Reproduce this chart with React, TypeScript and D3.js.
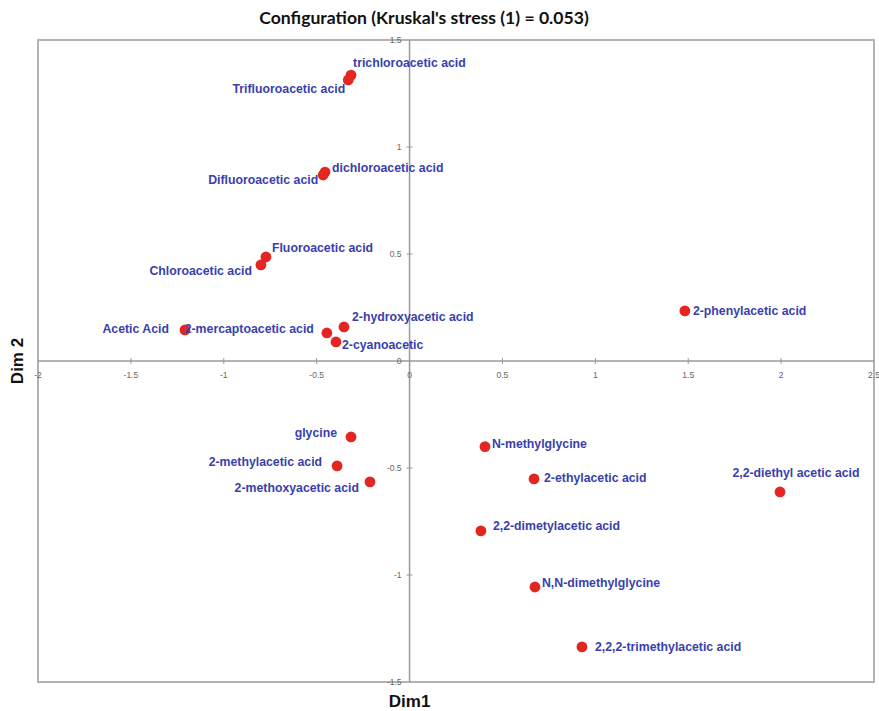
import React from "react";
import * as d3 from "d3";

// MDS configuration: compound names and their coordinates on the two dimensions
const names = [
  "trichloroacetic acid",
  "Trifluoroacetic acid",
  "dichloroacetic acid",
  "Difluoroacetic acid",
  "Fluoroacetic acid",
  "Chloroacetic acid",
  "Acetic Acid",
  "2-mercaptoacetic acid",
  "2-hydroxyacetic acid",
  "2-cyanoacetic",
  "2-phenylacetic acid",
  "glycine",
  "2-methylacetic acid",
  "2-methoxyacetic acid",
  "N-methylglycine",
  "2-ethylacetic acid",
  "2,2-diethyl acetic acid",
  "2,2-dimetylacetic acid",
  "N,N-dimethylglycine",
  "2,2,2-trimethylacetic acid",
];
const dim1 = [
  -0.315, -0.33, -0.455, -0.465, -0.773, -0.8, -1.209, -0.445, -0.353, -0.396,
  1.482, -0.315, -0.39, -0.213, 0.406, 0.67, 1.994, 0.384, 0.675, 0.928,
];
const dim2 = [
  1.336, 1.313, 0.883, 0.869, 0.486, 0.449, 0.145, 0.131, 0.159, 0.089,
  0.234, -0.355, -0.49, -0.565, -0.4, -0.551, -0.612, -0.794, -1.056, -1.336,
];
const xTicks = [-2, -1.5, -1, -0.5, 0, 0.5, 1, 1.5, 2, 2.5];
const yTicks = [-1.5, -1, -0.5, 0, 0.5, 1, 1.5];

// label placement relative to each marker: [dx, dy, anchor]
const labelPlacement: [number, number, string][] = [
  [2, -12, "start"],
  [-3, 9, "end"],
  [7, -4, "start"],
  [-5, 5, "end"],
  [6, -9, "start"],
  [-9, 6, "end"],
  [-16, -1, "end"],
  [-13, -4, "end"],
  [8, -10, "start"],
  [6, 3, "start"],
  [8, 0, "start"],
  [-14, -4, "end"],
  [-15, -4, "end"],
  [-11, 6, "end"],
  [7, -3, "start"],
  [10, -1, "start"],
  [16, -19, "middle"],
  [12, -5, "start"],
  [7, -4, "start"],
  [13, 0, "start"],
];

const W = 879;
const H = 711;
const left = 38;
const right = 874;
const top = 40;
const bottom = 682;

export default function App() {
  const x = d3.scaleLinear().domain([-2, 2.5]).range([left, right]);
  const y = d3.scaleLinear().domain([-1.5, 1.5]).range([bottom, top]);
  const x0 = x(0);
  const y0 = y(0);
  const fmt = (v: number) => String(v);
  const tickFont = "'Liberation Sans', Arial, sans-serif";
  const labelFont = "'Liberation Sans', Arial, sans-serif";

  return (
    <svg
      width={W}
      height={H}
      style={{ position: "absolute", left: 0, top: 0, background: "#fff" }}
    >
      <text
        x={424}
        y={24}
        textAnchor="middle"
        fontFamily="Lato, 'Open Sans', sans-serif"
        fontWeight="bold"
        fontSize={17.6}
        fill="#111"
      >
        Configuration (Kruskal's stress (1) = 0.053)
      </text>

      {/* plot frame */}
      <rect
        x={left}
        y={top}
        width={right - left}
        height={bottom - top}
        fill="none"
        stroke="#b3b3b3"
        strokeWidth={2}
      />

      {/* axes through the origin */}
      <line x1={left} x2={right} y1={y0} y2={y0} stroke="#9a9a9a" strokeWidth={1.5} />
      <line x1={x0} x2={x0} y1={top} y2={bottom} stroke="#9a9a9a" strokeWidth={1.5} />

      {xTicks.map((t) => (
        <g key={"xt" + t}>
          {t !== 0 && t !== -2 && t !== 2.5 && (
            <line x1={x(t)} x2={x(t)} y1={y0 - 3} y2={y0 + 3} stroke="#9a9a9a" />
          )}
          <text
            x={x(t)}
            y={y0 + 17}
            textAnchor="middle"
            fontFamily={tickFont}
            fontSize={8.5}
            fill="#666"
          >
            {fmt(t)}
          </text>
        </g>
      ))}
      {yTicks.map((t) => (
        <g key={"yt" + t}>
          {t !== 0 && Math.abs(t) !== 1.5 && (
            <line x1={x0 - 3} x2={x0 + 3} y1={y(t)} y2={y(t)} stroke="#9a9a9a" />
          )}
          <text
            x={x0 - 8}
            y={y(t) + 3}
            textAnchor="end"
            fontFamily={tickFont}
            fontSize={8.5}
            fill="#666"
          >
            {fmt(t)}
          </text>
        </g>
      ))}

      {/* axis titles */}
      <text
        x={x0}
        y={707}
        textAnchor="middle"
        fontFamily="'Liberation Sans', Arial, sans-serif"
        fontWeight="bold"
        fontSize={17}
        fill="#111"
      >
        Dim1
      </text>
      <text
        transform={`translate(23, ${y0}) rotate(-90)`}
        textAnchor="middle"
        fontFamily="'Liberation Sans', Arial, sans-serif"
        fontWeight="bold"
        fontSize={17}
        fill="#111"
      >
        Dim 2
      </text>

      {/* markers */}
      {names.map((n, i) => (
        <circle key={"c" + n} cx={x(dim1[i])} cy={y(dim2[i])} r={5.4} fill="#e3261f" />
      ))}

      {/* labels */}
      {names.map((n, i) => {
        const [dx, dy, anchor] = labelPlacement[i];
        return (
          <text
            key={"l" + n}
            x={x(dim1[i]) + dx}
            y={y(dim2[i]) + dy}
            dy="0.35em"
            textAnchor={anchor}
            fontFamily={labelFont}
            fontWeight="bold"
            fontSize={12.3}
            fill="#3a3fad"
          >
            {n}
          </text>
        );
      })}
    </svg>
  );
}
